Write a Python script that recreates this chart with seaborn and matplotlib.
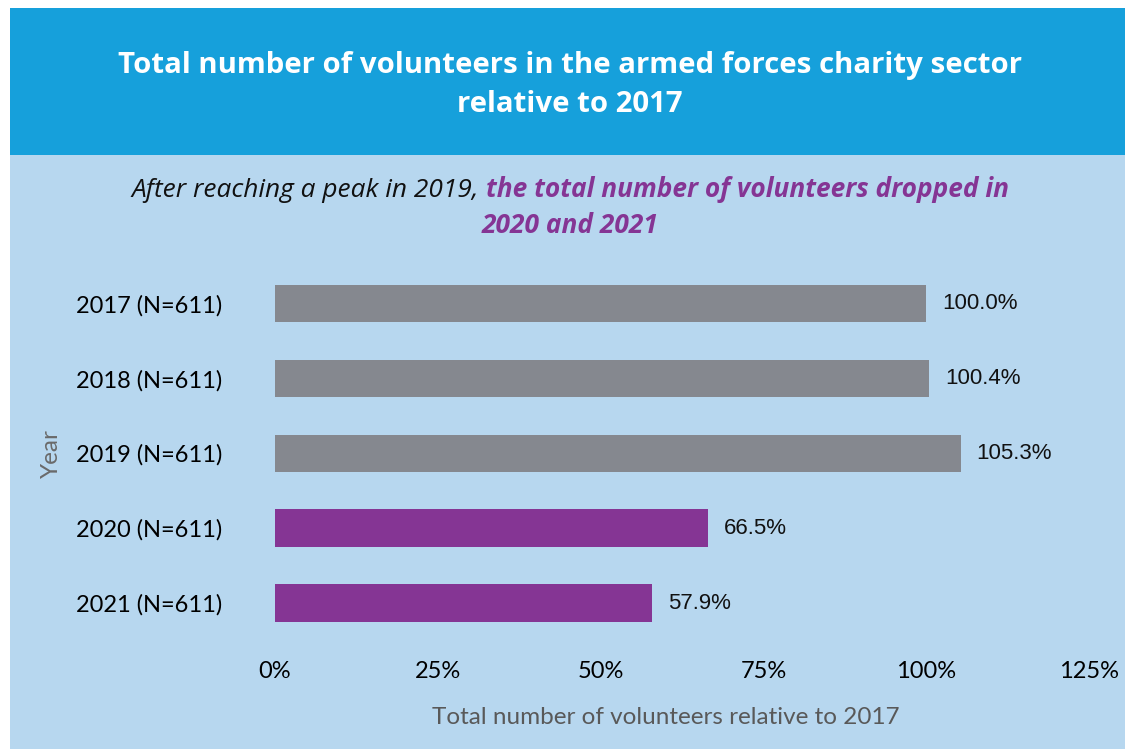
import matplotlib
matplotlib.use("Agg")
import matplotlib.pyplot as plt
from matplotlib.patches import Rectangle
import seaborn as sns
import pandas as pd

# Data
years = ["2017 (N=611)", "2018 (N=611)", "2019 (N=611)", "2020 (N=611)", "2021 (N=611)"]
relative_pct = [100.0, 100.4, 105.3, 66.5, 57.9]
x_ticks = [0, 25, 50, 75, 100, 125]

GREY = "#85888F"
PURPLE = "#853594"
HEADER = "#16A0DB"
PANEL = "#B7D7EF"
bar_colors = [GREY, GREY, GREY, PURPLE, PURPLE]

sns.set_theme(style="white")
plt.rcParams["font.family"] = ["Lato", "DejaVu Sans"]

W, H = 1125, 749
fig = plt.figure(figsize=(W / 100, H / 100), dpi=100)
fig.patch.set_facecolor("white")


def px(x, y):
    """Pixel position (from top-left) to figure fraction."""
    return x / W, 1 - y / H


# Panel and header band (behind the axes)
fig.patches.append(Rectangle(px(10, 749), (W - 10) / W, (749 - 8) / H,
                             transform=fig.transFigure, facecolor=PANEL,
                             edgecolor="none", zorder=-2))
fig.patches.append(Rectangle(px(10, 155), (W - 10) / W, (155 - 8) / H,
                             transform=fig.transFigure, facecolor=HEADER,
                             edgecolor="none", zorder=-1))

# Title
fig.text(*px(570, 85), "Total number of volunteers in the armed forces charity sector\nrelative to 2017",
         ha="center", va="center", color="white", fontsize=21.2, fontweight="bold",
         family=["Open Sans", "DejaVu Sans"], linespacing=1.48)

# Axes
ax_left, ax_right = 275, 1089
ax_top, ax_bottom = 266, 640.5
ax = fig.add_axes([ax_left / W, 1 - ax_bottom / H,
                   (ax_right - ax_left) / W, (ax_bottom - ax_top) / H])
ax.set_facecolor("none")

df = pd.DataFrame({"year": years, "pct": relative_pct})
sns.barplot(data=df, x="pct", y="year", hue="year", palette=bar_colors,
            legend=False, width=0.5, saturation=1, linewidth=0, ax=ax)

ax.set_xlim(0, 125)
ax.set_ylim(len(years) - 0.5, -0.5)
ax.set_xticks(x_ticks)
ax.set_xticklabels([f"{t}%" for t in x_ticks])
for s in ax.spines.values():
    s.set_visible(False)
ax.tick_params(axis="both", length=0, labelsize=17, colors="black")
ax.tick_params(axis="x", pad=15)
ax.tick_params(axis="y", pad=38)

ax.set_xlabel("Total number of volunteers relative to 2017", fontsize=17.5, color="#595959")
ax.xaxis.set_label_coords(0.48, -0.178)
ax.set_ylabel("Year", fontsize=17.5, color="#6A6A6A")
ax.yaxis.set_label_coords(-0.262, 0.5)

for c in ax.containers:
    ax.bar_label(c, fmt="{:.1f}%", padding=11.5, fontsize=16,
                 family="Liberation Sans", color="#111111")

# Subtitle with two-tone emphasis
fig.canvas.draw()
renderer = fig.canvas.get_renderer()
sub_size = 18.9
sub_family = ["Open Sans", "DejaVu Sans"]
part1 = "After reaching a peak in 2019, "
part2 = "the total number of volunteers dropped in"
t1 = fig.text(0, 0, part1, fontsize=sub_size, style="italic", color="#111111",
              family=sub_family)
t2 = fig.text(0, 0, part2, fontsize=sub_size, style="italic", fontweight="bold",
              color=PURPLE, family=sub_family)
w1 = t1.get_window_extent(renderer).width
w2 = t2.get_window_extent(renderer).width
start = 570 - (w1 + w2) / 2
t1.set_position(px(start, 197))
t2.set_position(px(start + w1, 197))
fig.text(*px(570, 233), "2020 and 2021", fontsize=sub_size, style="italic",
         fontweight="bold", color=PURPLE, ha="center", family=sub_family)

fig.savefig("out.png", dpi=100)
